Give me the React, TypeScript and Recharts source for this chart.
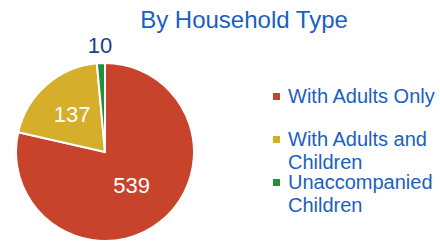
import React from 'react';
import { PieChart, Pie, Cell, Legend } from 'recharts';

const categories = ['With Adults Only', 'With Adults and Children', 'Unaccompanied Children'];
const counts = [539, 137, 10];
const colors = ['#c8432c', '#d5ae2c', '#22923a'];

const data = categories.map((name, i) => ({ name, value: counts[i], color: colors[i] }));

const RAD = Math.PI / 180;
const BLUE = '#1b5fbf';
const FONT = '"Liberation Sans", Arial, sans-serif';

const renderLabel = (props: any) => {
  const { cx, cy, midAngle, outerRadius, value, index } = props;
  const inside = index < 2;
  const r = inside ? outerRadius * (index === 0 ? 0.48 : 0.56) : outerRadius * 1.2;
  const x = cx + r * Math.cos(-midAngle * RAD);
  const y = cy + r * Math.sin(-midAngle * RAD);
  return (
    <text
      x={x}
      y={y}
      fill={inside ? '#ffffff' : '#1c3f86'}
      textAnchor="middle"
      dominantBaseline="central"
      fontSize={22}
      fontFamily={FONT}
    >
      {value}
    </text>
  );
};

// legend keeps the data order (recharts would sort the payload by name)
const LegendBox = () => (
  <div style={{ position: 'relative', width: 170, height: 150, fontFamily: FONT }}>
    {data.map((it, i) => (
      <div key={i} style={{ position: 'absolute', left: 0, top: i * 43, width: 170 }}>
        <span
          style={{
            position: 'absolute',
            left: 3,
            top: 8,
            width: 7,
            height: 7,
            background: it.color,
          }}
        />
        <div style={{ marginLeft: 18, width: 152, color: BLUE, fontSize: 20, lineHeight: '23px' }}>
          {it.name}
        </div>
      </div>
    ))}
  </div>
);

export default function App() {
  return (
    <div style={{ position: 'absolute', left: 0, top: 0, width: 440, height: 242, background: '#fff', overflow: 'hidden' }}>
      <div
        style={{
          position: 'absolute',
          left: 0,
          top: 8,
          width: 488,
          textAlign: 'center',
          color: BLUE,
          fontFamily: FONT,
          fontSize: 24,
          lineHeight: '24px',
        }}
      >
        By Household Type
      </div>
      <PieChart width={440} height={242} margin={{ top: 0, right: 0, bottom: 0, left: 0 }}>
        <Pie
          data={data}
          dataKey="value"
          nameKey="name"
          cx={105}
          cy={152}
          outerRadius={89}
          startAngle={90}
          endAngle={-270}
          stroke="#ffffff"
          strokeWidth={2}
          label={renderLabel}
          labelLine={false}
          isAnimationActive={false}
        >
          {data.map((d, i) => (
            <Cell key={`c-${i}`} fill={d.color} />
          ))}
        </Pie>
        <Legend
          layout="vertical"
          align="right"
          verticalAlign="middle"
          content={<LegendBox />}
          wrapperStyle={{ left: 270, top: 85, width: 170 }}
        />
      </PieChart>
    </div>
  );
}
